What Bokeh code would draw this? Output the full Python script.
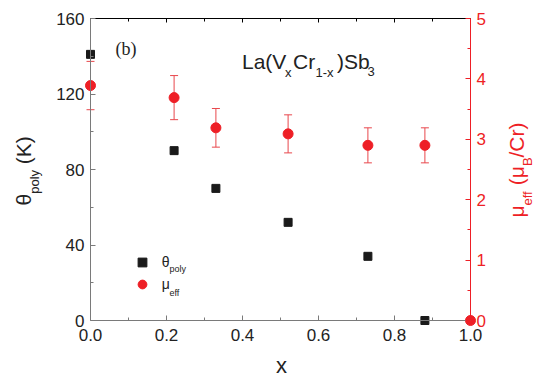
import math
from bokeh.plotting import figure
from bokeh.models import (Range1d, LinearAxis, Whisker, ColumnDataSource, Label,
                          Legend, LegendItem, FixedTicker, PrintfTickFormatter, TeeHead)
from bokeh.embed import file_html
from bokeh.resources import INLINE

# ---- data ----
x_theta = [0.0, 0.22, 0.33, 0.52, 0.73, 0.88]
theta_poly = [141, 90, 70, 52, 34, 0]
x_mu = [0.0, 0.22, 0.33, 0.52, 0.73, 0.88, 1.0]
mu_eff = [3.89, 3.69, 3.19, 3.09, 2.90, 2.90, 0.0]
mu_err = [0.40, 0.365, 0.32, 0.315, 0.29, 0.29, 0.0]

x_ticks = [0.0, 0.2, 0.4, 0.6, 0.8, 1.0]
x_minor = [0.1, 0.3, 0.5, 0.7, 0.9]
theta_ticks = [0, 40, 80, 120, 160]
theta_minor = [20, 60, 100, 140]
mu_ticks = [0, 1, 2, 3, 4, 5]
mu_minor = [0.5, 1.5, 2.5, 3.5, 4.5]

RED = "#ee1f26"
ERR = "#e8474c"
GRAY = "#7a7a7a"
FONT = "Liberation Sans"

# canvas geometry (the frame spans the whole canvas; axes are pinned inside it)
W, H = 545, 381
FL, FR, FT, FB = 90, 470, 18, 320          # pixel box of the plotting area
xpx = (FR - FL) / 1.0
tpx = (FB - FT) / 160.0
mpx = (FB - FT) / 5.0

p = figure(width=W, height=H,
           x_range=Range1d(-FL / xpx, 1 + (W - FR) / xpx),
           y_range=Range1d(-(H - FB) / tpx, 160 + FT / tpx),
           output_backend="svg", toolbar_location=None,
           min_border=0, min_border_left=0, min_border_right=0,
           min_border_top=0, min_border_bottom=0,
           x_axis_location=None, y_axis_location=None)
p.extra_y_ranges = {"mu": Range1d(-(H - FB) / mpx, 5 + FT / mpx)}
p.grid.visible = False
p.outline_line_color = None
p.background_fill_color = "white"


def style(ax, color, label_color, ticks, minor):
    ax.ticker = FixedTicker(ticks=ticks, minor_ticks=minor)
    ax.axis_line_color = color
    ax.major_tick_line_color = color
    ax.minor_tick_line_color = color
    ax.major_tick_in = 5
    ax.major_tick_out = 0
    ax.minor_tick_in = 3
    ax.minor_tick_out = 0
    ax.major_label_text_font = FONT
    ax.major_label_text_font_size = "17px"
    ax.major_label_text_color = label_color
    ax.major_label_standoff = 6


bottom = LinearAxis(fixed_location=0, bounds=(0, 1))
style(bottom, GRAY, "#222222", x_ticks, x_minor)
bottom.formatter = PrintfTickFormatter(format="%.1f")
bottom.major_label_standoff = 8
p.add_layout(bottom, "below")

top = LinearAxis(fixed_location=160, bounds=(0, 1))
style(top, "black", "#222222", x_ticks, x_minor)
top.major_tick_in = 4
top.major_label_text_font_size = "0px"
top.major_label_text_color = None
p.add_layout(top, "above")

left = LinearAxis(fixed_location=0, bounds=(0, 160))
style(left, GRAY, "#222222", theta_ticks, theta_minor)
p.add_layout(left, "left")

right = LinearAxis(y_range_name="mu", fixed_location=1, bounds=(0, 5))
style(right, RED, RED, mu_ticks, mu_minor)
p.add_layout(right, "right")

# ---- error bars ----
ex, eu, el = [], [], []
for xv, mv, ev in zip(x_mu, mu_eff, mu_err):
    if ev > 0:
        ex.append(xv)
        eu.append(mv + ev)
        el.append(mv - ev)
esrc = ColumnDataSource(dict(x=ex, upper=eu, lower=el))
wh = Whisker(base="x", upper="upper", lower="lower", source=esrc, y_range_name="mu",
             line_color=ERR, line_width=1,
             upper_head=TeeHead(size=8, line_color=ERR, line_width=1),
             lower_head=TeeHead(size=8, line_color=ERR, line_width=1))
wh.level = "underlay"
p.add_layout(wh)

r_theta = p.scatter(x_theta, theta_poly, marker="square", size=8,
                    fill_color="#1a1a1a", line_color="#1a1a1a")
r_mu = p.scatter(x_mu, mu_eff, marker="circle", size=10, y_range_name="mu",
                 fill_color=RED, line_color=RED)

legend = Legend(items=[LegendItem(label="θ", renderers=[r_theta]),
                       LegendItem(label="μ", renderers=[r_mu])],
                location=(130.7, H - 294.7), padding=0, margin=0, spacing=0,
                glyph_width=22, glyph_height=22, label_height=22, label_standoff=9,
                label_text_font=FONT, label_text_font_size="14px",
                label_text_color="#222222",
                background_fill_alpha=0, border_line_color=None)
p.add_layout(legend)

K = 0.3  # baseline correction, in em


def lab(text, px, py, size, color="#222222", font=FONT, angle=0.0, align="left"):
    # anchored at data origin (0, 0) with pixel offsets to the wanted position
    fs = float(size.replace("px", ""))
    if angle == 0.0:
        py -= K * fs
    else:
        px -= K * fs
    p.add_layout(Label(x=0, y=0, x_offset=px - FL, y_offset=FB - py, text=text,
                       text_font=font, text_font_size=size, text_color=color,
                       angle=angle, text_align=align, text_baseline="alphabetic"))


# legend subscripts
lab("poly", 169, 271.5, "9px")
lab("eff", 169, 295, "9px")

# compound formula
TB = 67
lab("La(V", 241.5, TB, "21px")
lab("x", 284.5, TB + 8.5, "13px")
lab("Cr", 292.5, TB, "21px")
lab("1-x", 315, TB + 8.5, "13px")
lab(")Sb", 336.5, TB, "21px")
lab("3", 367, TB + 7.5, "13px")

# panel tag
lab("(b)", 115, 53.5, "18px", font="Liberation Serif")

# x axis title
lab("x", 281, 371.5, "22px", align="center")

# left axis title (rotated)
A = math.pi / 2
lab("θ", 29, 205, "21px", angle=A)
lab("poly", 38, 193.3, "13px", angle=A)
lab("(K)", 29, 163.7, "21px", angle=A)

# right axis title (rotated)
lab("μ", 522, 217, "21px", color=RED, angle=A)
lab("eff", 531, 205, "13px", color=RED, angle=A)
lab("(μ", 522, 184.7, "21px", color=RED, angle=A)
lab("B", 531, 165.6, "13px", color=RED, angle=A)
lab("/Cr)", 522, 157, "21px", color=RED, angle=A)

open("out.html", "w").write(file_html(p, INLINE))
